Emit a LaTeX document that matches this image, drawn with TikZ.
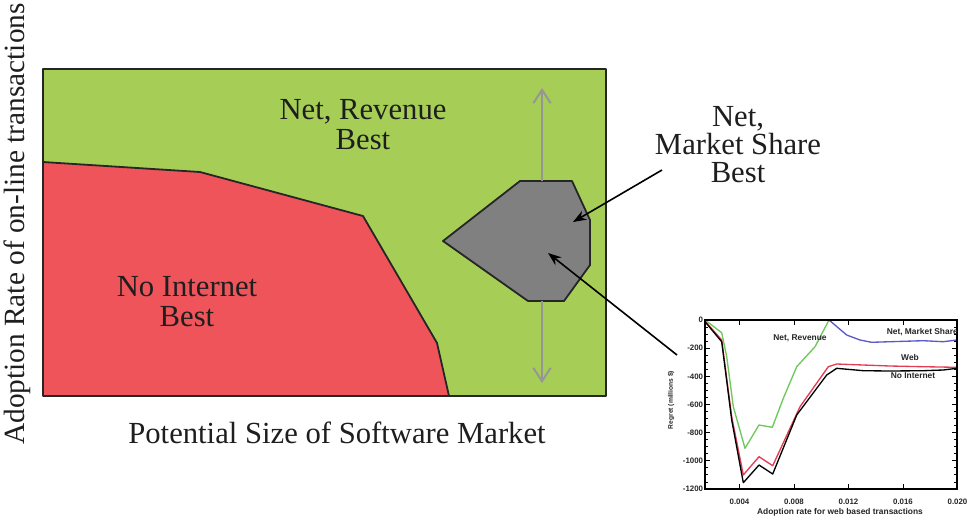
\documentclass[tikz,border=0pt]{standalone}
\usepackage{fontspec}
\setmainfont{Liberation Serif}
\newfontfamily\chartfont{Liberation Sans}
\usetikzlibrary{arrows.meta}
\definecolor{bggreen}{RGB}{166,206,86}
\definecolor{regred}{RGB}{238,84,90}
\definecolor{polygray}{RGB}{128,128,128}
\definecolor{arrgray}{RGB}{150,150,150}
\definecolor{txt}{RGB}{30,30,30}
\definecolor{cgreen}{RGB}{110,200,90}
\definecolor{cred}{RGB}{228,60,85}
\definecolor{cblue}{RGB}{90,90,200}
\begin{document}
\begin{tikzpicture}[x=0.75pt,y=-0.75pt,
  bigtxt/.style={font=\fontsize{23}{22.5}\selectfont, text=txt, align=center, inner sep=0pt},
  edgeline/.style={draw=black!85, line width=1.35pt, line join=round},
  grayarrow/.style={draw=arrgray, line width=2.1pt, -{Straight Barb[length=10pt,width=13pt,line width=1.5pt]}},
  blackarrow/.style={draw=black, line width=1.2pt, -{Stealth[length=10pt,width=7.5pt]}},
  ticklab/.style={font=\chartfont\bfseries\fontsize{5.9}{6}\selectfont, inner sep=0.5pt, text=black!85},
  clab/.style={font=\chartfont\bfseries\fontsize{6.3}{7}\selectfont, inner sep=0pt, text=black!85},
  curve/.style={line width=1pt, line join=round}]
\useasboundingbox (0,0) rectangle (969,519);
\fill[white] (0,0) rectangle (969,519);

% main field
\fill[bggreen] (43,69) rectangle (606,396);
\fill[regred] (43,162) -- (200,172) -- (363,216) -- (437,343) -- (449,396) -- (43,396) -- cycle;
\draw[edgeline] (43,162) -- (200,172) -- (363,216) -- (437,343) -- (449,396);
\draw[edgeline, fill=polygray] (443,241) -- (520,181) -- (572,181) -- (590,220) -- (590,265) -- (564,301) -- (528,301) -- cycle;

\coordinate (ptop) at (542,181);
\coordinate (pbot) at (542,301);
\coordinate (atop) at (542,88);
\coordinate (abot) at (542,383);
\draw[grayarrow] (ptop) -- (atop);
\draw[grayarrow] (pbot) -- (abot);
\draw[edgeline] (43,69) rectangle (606,396);

% labels
\node[bigtxt] (nrev) at (363,125) {Net, Revenue\\Best};
\node[bigtxt] (noint) at (187,302) {No Internet\\Best};
\node[bigtxt, font=\fontsize{23}{21}\selectfont] (nms) at (738,145) {Net,\\Market Share\\Best};
\node[bigtxt, font=\fontsize{23}{23}\selectfont, anchor=base] (xlab) at (337,443) {Potential Size of Software Market};
\node[bigtxt, font=\fontsize{22}{22}\selectfont, rotate=90] (ylab) at (17,224) {Adoption Rate of on-line transactions};

% black arrows
\coordinate (s1) at (662,170);
\coordinate (tip1) at (573,222);
\coordinate (s2) at (677,355);
\coordinate (tip2) at (548,253);
\draw[blackarrow] (s1) -- (tip1);
\draw[blackarrow] (s2) -- (tip2);

% chart
\fill[white] (705,320) rectangle (957,489);
\foreach \k in {0,...,24} {
  \pgfmathsetmacro\yy{320+\k*169/24}
  \pgfmathsetmacro\tl{ifthenelse(mod(\k,4)==0,5,3)}
  \draw[line width=0.7pt] (705,\yy) -- ++(\tl,0);
  \draw[line width=0.7pt] (957,\yy) -- ++(-\tl,0);
}
\foreach \i/\lab in {0/0.004,1/0.008,2/0.012,3/0.016,4/0.020} {
  \pgfmathsetmacro\xx{739.5+54.5*\i}
  \draw[line width=0.7pt] (\xx,489) -- ++(0,-5);
  \draw[line width=0.7pt] (\xx,320) -- ++(0,5);
  \node[ticklab] (xt\i) at (\xx,502) {\lab};
}
\foreach \k/\lab in {0/0,1/-200,2/-400,3/-600,4/-800,5/-1000,6/-1200} {
  \pgfmathsetmacro\yy{320+\k*169/6}
  \node[ticklab, anchor=east] (yt\k) at (704,\yy) {\lab};
}
\node[ticklab, font=\chartfont\bfseries\fontsize{6.3}{7}\selectfont] (cxl) at (840,512) {Adoption rate for web based transactions};
\node[ticklab, font=\chartfont\bfseries\fontsize{5}{6}\selectfont, rotate=90] (cyl) at (671,400) {Regret (millions \$)};

\draw[curve, cgreen] (706,320.7) -- (721.7,332.7) -- (726.7,356.7) -- (733.3,406.7) -- (745,448.3) -- (759,425) -- (772.3,427.3) -- (783.3,398.3) -- (796.7,366.7) -- (815,346.7) -- (829,320);
\draw[curve, cblue] (705,320) -- (712,320);
\draw[curve, cblue] (829,320) -- (846.7,335) -- (860,340) -- (871.7,342.3) -- (890,341.7) -- (923.3,340.7) -- (943.3,341.7) -- (956.7,340);
\draw[curve, cred] (705,321) -- (721.7,340) -- (731.7,416.7) -- (743.3,475) -- (759,456.7) -- (772.7,465.7) -- (800,406.7) -- (828.3,366.7) -- (836.7,364) -- (863.3,365) -- (890,366) -- (923.3,366.7) -- (956.7,367.3);
\draw[curve, black] (705,321.7) -- (721.7,341.7) -- (731.7,420) -- (743.3,482.7) -- (759,465) -- (772.7,474) -- (796.7,415) -- (826.7,375) -- (836.7,368.3) -- (863.3,370.7) -- (890,371) -- (923.3,370.7) -- (943,370) -- (956.7,368.3);
\draw[line width=0.9pt] (705,320) rectangle (957,489);

\node[clab] (lrev) at (800,338) {Net, Revenue};
\node[clab, anchor=east] (lms) at (958,332) {Net, Market Share};
\node[clab] (lweb) at (910,357) {Web};
\node[clab] (lno) at (913,376) {No Internet};
\end{tikzpicture}
\end{document}
